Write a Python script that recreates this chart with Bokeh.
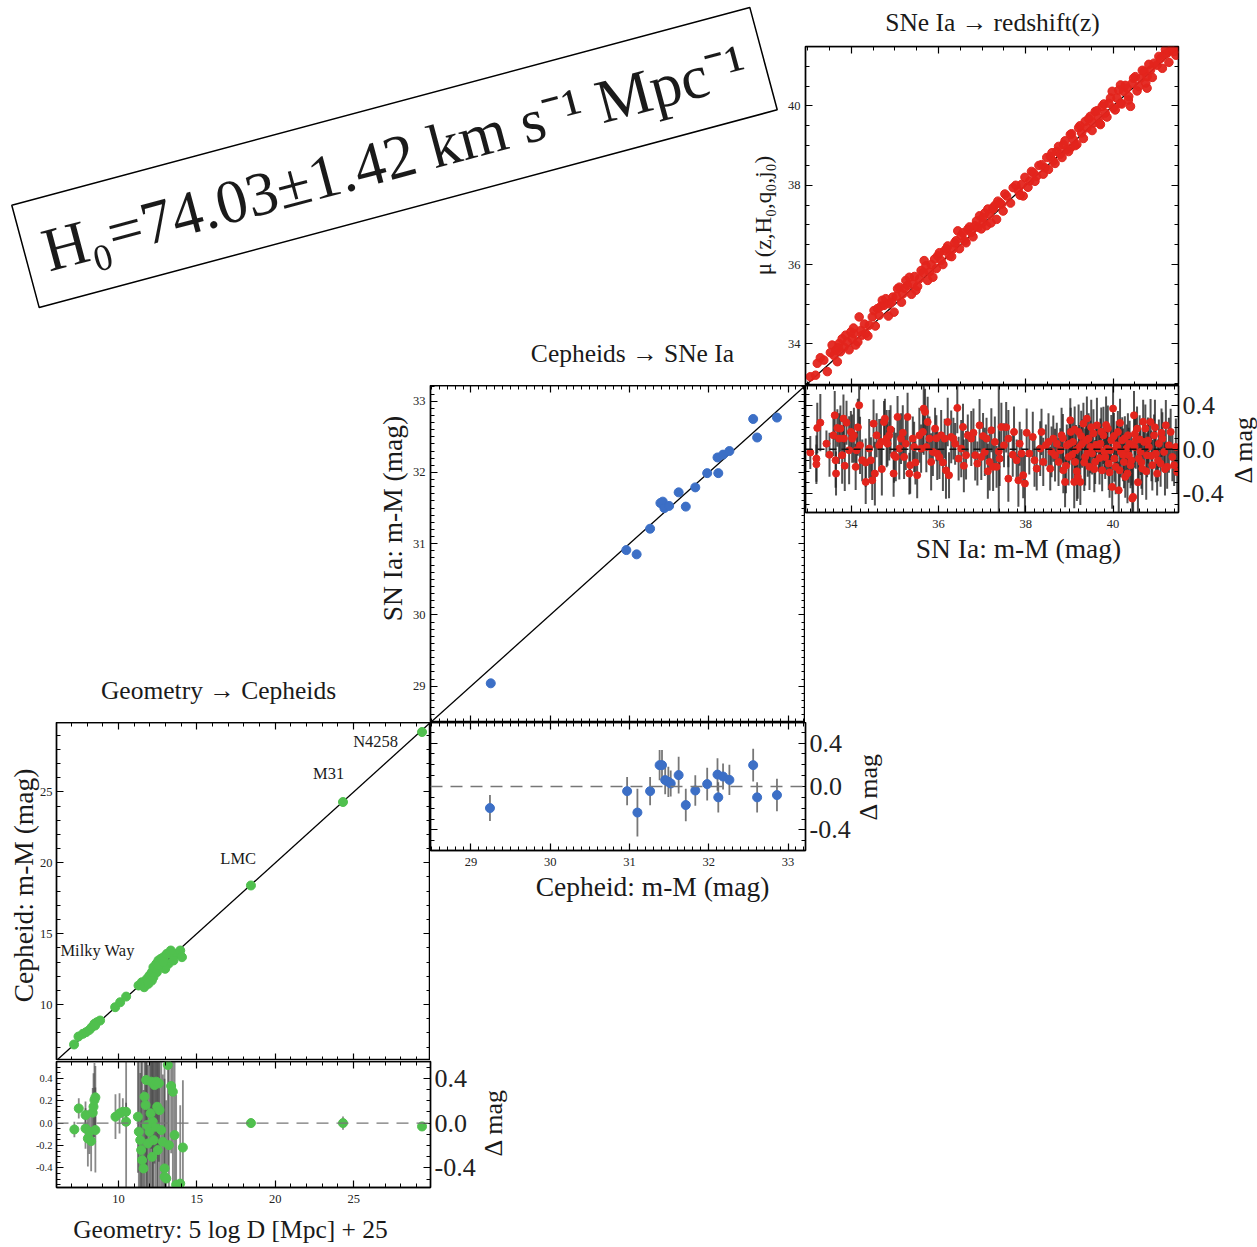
import math
import numpy as np
from bokeh.plotting import figure
from bokeh.models import Range1d, LinearAxis, FixedTicker, Label, ColumnDataSource, Span, PrintfTickFormatter
from bokeh.layouts import column
from bokeh.embed import file_html
from bokeh.resources import INLINE

# ---------------- data ----------------
# Top panel: SNe Ia -> redshift(z)
sn_x = [33.06,33.18,33.22,33.29,33.37,33.56,33.60,33.64,33.68,33.72,33.75,33.79,33.83,33.87,33.91,33.99,34.02,34.06,34.10,34.18,
        34.22,34.25,34.33,34.41,34.48,34.52,34.60,34.64,34.71,34.75,34.79,34.87,34.95,34.98,35.06,35.10,35.18,35.25,35.29,35.33,
        35.41,35.48,35.56,35.60,35.67,35.71,35.79,35.87,35.91,35.98,36.06,36.14,36.21,36.25,36.33,36.40,36.44,36.52,36.60,36.67,
        36.75,36.83,36.90,36.94,37.02,37.10,37.17,37.25,37.33,37.40,
        37.02,37.13,37.25,37.36,37.44,37.56,37.71,37.83,37.90,37.94,38.09,38.17,38.25,38.36,38.44,38.56,38.63,38.71,38.79,38.86,
        38.94,39.02,39.09,39.17,39.21,39.28,39.36,39.40,39.48,39.55,39.59,39.67,39.75,39.82,39.90,39.98,40.01,40.09,40.17,40.24,
        40.32,40.40,40.44,40.51,40.59,40.63,40.71,40.78,40.86,40.94,41.01,41.09,41.17,41.24,41.32,41.40,41.47,40.36,39.71,39.02,
        40.17,40.78,
        33.45,33.52,33.70,33.95,34.05,34.15,34.30,34.38,34.55,34.68,34.85,34.92,35.03,35.15,35.22,35.38,35.45,35.52,35.65,35.75,
        35.83,35.95,36.02,36.10,36.18,36.30,36.37,36.48,36.56,36.63,36.71,36.79,36.87,36.98,37.06,37.20,37.30,37.48,37.52,37.65,
        37.77,37.87,37.98,38.05,38.13,38.21,38.30,38.40,38.48,38.52,38.60,38.67,38.75,38.83,38.90,38.98,39.05,39.13,39.24,39.32,
        39.44,39.52,39.63,39.70,39.79,39.86,39.94,40.05,40.13,40.20,40.28,40.35,40.47,40.55,40.67,40.75,40.82,40.90,41.05,41.13,
        41.20,41.28,41.36,41.44]
sn_mu = [33.17,33.21,33.51,33.65,33.59,33.97,33.71,33.84,33.55,34.01,33.80,34.13,33.92,34.22,34.05,34.30,34.13,34.26,33.97,34.68,
         34.34,34.22,34.26,34.47,34.68,34.84,34.89,34.72,35.10,34.97,35.14,35.01,35.18,34.80,35.39,35.43,35.26,35.60,35.47,35.68,
         35.51,35.35,35.64,35.85,36.10,35.97,35.81,35.68,36.14,36.22,36.10,36.35,36.47,36.22,36.39,36.60,36.85,36.73,36.60,36.89,
         36.81,36.98,36.94,37.23,37.06,36.98,37.27,37.40,37.14,37.56,
         37.19,37.40,37.44,37.60,37.52,37.73,37.94,37.86,38.02,37.73,38.11,38.32,38.23,38.52,38.44,38.73,38.61,38.86,38.78,39.03,
         38.90,39.28,39.15,39.03,39.45,39.32,39.61,39.45,39.74,39.57,39.86,39.70,39.99,39.82,40.07,40.37,39.95,40.20,40.07,40.37,
         40.45,39.99,40.57,40.74,40.49,40.70,40.87,40.74,40.91,41.08,41.03,41.20,41.29,41.33,41.41,41.37,41.45,40.24,39.53,38.94,
         40.53,40.45,
         33.30,33.78,33.90,33.85,34.40,34.05,34.50,34.20,34.45,34.95,34.70,35.05,35.20,35.05,35.40,35.25,35.70,35.45,35.80,35.60,
         36.00,35.90,36.30,36.00,36.40,36.20,36.55,36.40,36.80,36.55,36.95,36.70,37.10,36.90,37.30,37.05,37.50,37.35,37.78,37.55,
         38.00,37.75,38.20,37.95,38.35,38.10,38.50,38.28,38.70,38.40,38.82,38.55,38.98,38.70,39.12,38.85,39.30,39.00,39.50,39.18,
         39.68,39.38,39.88,39.55,40.05,39.72,40.20,39.90,40.40,40.05,40.52,40.15,40.70,40.38,40.90,40.58,41.05,40.72,41.25,40.95,
         41.42,41.10,41.45,41.28]
sn_line = [32.95, 41.5]

sn_res_x = [33.06,33.20,33.20,33.22,33.29,33.43,33.59,33.62,33.64,33.65,33.68,33.72,33.75,33.79,33.82,33.83,33.89,33.95,33.99,34.02,
            34.06,34.10,34.12,34.18,34.20,34.25,34.33,34.33,34.41,34.48,34.51,34.54,34.58,34.64,34.68,34.75,34.77,34.81,34.83,34.87,
            34.97,34.98,35.02,35.06,35.10,35.14,35.21,35.25,35.29,35.33,35.35,35.41,35.44,35.51,35.56,35.60,35.64,35.66,35.69,35.75,
            35.79,35.83,35.87,35.92,35.97,36.02,36.06,36.14,36.17,36.21,36.24,36.29,36.34,36.43,36.46,36.52,36.56,36.63,36.67,36.75,
            36.84,36.89,36.94,36.98,37.06,37.10,37.17,37.25,
            37.21,37.29,37.33,37.40,37.44,37.50,37.60,37.60,37.73,37.79,37.83,37.86,37.90,37.94,37.98,38.08,38.16,38.25,38.33,38.36,
            38.40,38.46,38.52,38.56,38.59,38.63,38.67,38.71,38.75,38.79,38.82,38.86,38.90,38.94,38.98,39.02,39.03,39.08,39.11,39.13,
            39.15,39.19,39.21,39.25,39.29,39.32,39.36,39.40,39.44,39.46,39.48,39.52,39.55,39.59,39.63,39.67,39.71,39.75,39.78,39.82,
            39.86,39.88,39.90,39.94,39.96,39.98,40.00,40.03,40.08,40.11,40.13,40.15,40.18,40.21,40.25,40.28,40.31,40.34,40.36,40.40,
            40.44,40.46,40.48,40.49,40.52,40.55,40.59,40.63,40.67,40.71,40.74,40.78,40.82,40.86,40.90,40.94,40.98,41.01,41.05,41.09,
            41.13,41.17,41.21,41.24,41.28,41.32,41.36,41.40,41.44,41.47,37.38,
            38.85,38.92,39.00,39.06,39.12,39.17,39.23,39.27,39.34,39.38,39.42,39.50,39.57,39.61,39.69,39.73,39.80,39.84,39.92,40.02,
            40.06,40.10,40.16,40.23,40.27,40.33,40.38,40.42,40.50,40.57,40.61,40.65,40.69,40.76,40.80,40.88,40.96,41.03,41.11,41.19,
            33.50,33.85,34.15,34.45,34.70,34.90,35.18,35.47,35.72,35.95,36.10,36.38,36.58,36.80,37.02,37.13,37.55,37.70,38.02,38.20]
sn_res_d = [-0.03,-0.085,-0.136,0.194,0.242,0.051,0.127,0.309,-0.10,-0.221,0.194,0.097,0.188,-0.054,0.279,0.097,0.242,-0.009,0.158,0.097,
            0.127,-0.16,-0.009,0.40,0.036,-0.10,-0.121,-0.297,0.006,-0.282,0.233,-0.221,0.127,0.036,0.067,0.248,0.279,0.097,0.051,0.127,
            -0.221,-0.054,-0.07,0.294,0.006,0.097,-0.07,0.051,0.294,-0.221,-0.145,0.097,0.021,-0.236,0.127,0.006,0.158,0.37,0.34,0.248,
            0.097,-0.115,-0.024,0.188,-0.039,-0.07,0.127,0.097,-0.191,0.248,-0.236,0.112,0.097,0.376,-0.085,0.006,0.203,-0.054,0.127,0.097,
            -0.054,-0.13,0.218,-0.07,-0.024,0.097,-0.115,-0.16,
            0.173,0.067,-0.16,-0.085,0.203,0.036,0.097,-0.267,0.158,-0.10,-0.282,0.051,-0.039,-0.236,-0.312,-0.039,0.112,-0.176,0.006,0.158,
            -0.115,0.036,0.067,-0.176,-0.024,0.097,-0.054,0.051,-0.115,-0.009,0.127,-0.191,-0.297,0.036,-0.07,0.264,0.158,0.067,-0.297,-0.115,
            -0.009,-0.251,0.158,-0.297,0.051,0.233,-0.07,0.279,0.097,-0.16,0.021,-0.039,0.143,-0.115,0.218,0.006,0.051,-0.191,0.127,-0.07,
            0.006,0.188,-0.13,-0.009,0.082,-0.342,0.37,-0.085,0.036,0.158,-0.373,-0.191,-0.024,0.082,-0.115,-0.251,0.006,0.127,-0.054,-0.145,
            -0.448,-0.433,0.309,0.021,0.082,0.188,-0.085,-0.024,-0.176,0.067,0.188,-0.054,0.021,0.248,-0.145,0.127,-0.039,-0.221,0.051,-0.13,
            0.097,-0.024,0.218,-0.16,0.036,0.158,-0.07,-0.145,0.021,-0.206,-0.02,
            0.10,-0.15,0.05,-0.05,0.18,-0.20,0.02,0.12,-0.12,0.08,-0.03,0.20,-0.18,0.04,-0.08,0.16,-0.02,0.22,-0.21,0.12,
            -0.16,0.02,0.24,-0.05,0.10,-0.22,0.05,-0.10,0.14,-0.30,0.09,-0.12,0.25,-0.20,0.08,-0.06,0.20,-0.10,0.15,-0.18,
            -0.05,-0.15,0.20,-0.10,-0.18,0.18,0.15,-0.12,0.02,0.10,-0.12,0.05,-0.15,0.15,0.12,-0.20,0.20,-0.05,0.15,-0.10]
sn_res_err = [0.15,0.21,0.18,0.23,0.26,0.12,0.19,0.22,0.25,0.20,0.17,0.23,0.21,0.26,0.22,0.18,0.20,0.31,0.19,0.22,
              0.25,0.21,0.17,0.23,0.26,0.19,0.22,0.20,0.27,0.18,0.22,0.29,0.20,0.24,0.21,0.19,0.18,0.26,0.20,0.23,
              0.21,0.25,0.22,0.19,0.28,0.23,0.20,0.24,0.22,0.19,0.26,0.20,0.23,0.21,0.25,0.22,0.19,0.42,0.21,0.23,
              0.20,0.26,0.22,0.19,0.24,0.20,0.23,0.18,0.26,0.22,0.21,0.24,0.19,0.23,0.20,0.26,0.21,0.22,0.19,0.25,
              0.23,0.20,0.24,0.21,0.22,0.19,0.26,0.22,
              0.20,0.23,0.19,0.25,0.22,0.20,0.26,0.21,0.23,0.19,0.24,0.20,0.22,0.21,0.26,0.19,0.23,0.20,0.25,0.21,
              0.22,0.19,0.26,0.20,0.23,0.21,0.24,0.19,0.22,0.20,0.25,0.21,0.23,0.19,0.26,0.20,0.22,0.21,0.24,0.19,
              0.23,0.20,0.25,0.21,0.22,0.19,0.26,0.20,0.23,0.21,0.24,0.19,0.22,0.20,0.25,0.21,0.23,0.19,0.26,0.20,
              0.22,0.21,0.24,0.19,0.23,0.20,0.25,0.21,0.22,0.19,0.26,0.20,0.23,0.21,0.24,0.19,0.22,0.20,0.25,0.21,
              0.30,0.31,0.22,0.19,0.26,0.20,0.23,0.21,0.24,0.19,0.22,0.20,0.25,0.21,0.23,0.19,0.26,0.20,0.22,0.21,
              0.24,0.19,0.23,0.20,0.25,0.21,0.22,0.19,0.26,0.20,0.75,
              0.22,0.25,0.19,0.24,0.21,0.27,0.20,0.23,0.26,0.18,0.22,0.25,0.21,0.19,0.24,0.22,0.20,0.26,0.23,0.21,
              0.25,0.19,0.22,0.24,0.20,0.27,0.21,0.23,0.19,0.28,0.22,0.24,0.20,0.26,0.21,0.23,0.25,0.19,0.22,0.24,
              0.20,0.23,0.26,0.21,0.24,0.22,0.25,0.20,0.23,0.21,0.26,0.19,0.24,0.22,0.21,0.25,0.23,0.20,0.22,0.24]

# Middle panel: Cepheids -> SNe Ia
cep_x = [29.25,30.96,31.09,31.26,31.39,31.42,31.44,31.50,31.62,31.71,31.83,31.98,32.11,32.12,32.18,32.26,32.56,32.61,32.86]
sn_y = [29.04,30.91,30.85,31.21,31.57,31.59,31.50,31.53,31.72,31.52,31.79,31.99,32.21,31.99,32.25,32.30,32.75,32.49,32.77]
cep_line = [28.49, 33.22]
cep_res_x = [29.24,30.97,31.10,31.26,31.38,31.41,31.45,31.49,31.52,31.62,31.71,31.83,31.98,32.11,32.12,32.18,32.26,32.56,32.61,32.86]
cep_res_d = [-0.199,-0.043,-0.24,-0.043,0.197,0.197,0.059,0.043,0.028,0.105,-0.171,-0.037,0.022,0.11,-0.10,0.092,0.061,0.197,-0.10,-0.079]
cep_res_err = [0.12,0.13,0.22,0.13,0.14,0.14,0.13,0.14,0.12,0.17,0.15,0.14,0.15,0.15,0.14,0.12,0.14,0.15,0.14,0.15]

# Bottom panel: Geometry -> Cepheids
geo_x = [7.17,7.45,7.73,7.94,8.15,8.30,8.47,8.62,8.83,8.51,9.79,10.11,10.49,11.28,11.49,11.64,11.81,11.98,12.13,12.23,
         12.41,12.55,12.71,12.87,13.09,13.30,13.51,13.73,13.94,14.05,13.19,12.98,12.77,12.45,12.23,12.13,11.91,13.51,13.34,12.55,
         12.87,18.45,24.32,29.36]
cep_y = [7.18,7.74,7.93,8.05,8.21,8.40,8.64,8.75,8.87,8.52,9.81,10.16,10.56,11.34,11.57,11.22,11.81,12.05,12.28,12.63,
         12.87,13.11,13.23,13.34,13.58,13.69,13.46,13.58,13.81,13.34,12.87,12.52,13.11,12.28,11.93,11.69,11.46,13.11,13.81,12.75,
         12.99,18.40,24.29,29.23]
geo_line = [6.05, 29.9]
geo_res_x = [7.19,7.47,7.90,7.90,8.05,8.15,8.26,8.36,8.41,8.47,8.53,8.53,9.81,10.07,10.28,10.49,10.49,11.24,11.30,11.39,
             11.45,11.51,11.60,11.66,11.73,11.77,11.81,11.88,11.98,12.05,12.09,12.15,12.19,12.24,12.30,12.36,12.41,12.47,12.51,12.58,
             12.62,12.73,12.83,12.94,12.94,13.05,13.15,13.22,13.36,13.47,13.58,13.68,13.94,14.11,18.45,24.32,29.36]
geo_res_d = [-0.057,0.131,0.072,-0.048,-0.137,-0.077,-0.161,0.093,0.146,0.206,0.230,-0.062,0.057,0.087,0.101,0.101,0.012,0.057,-0.077,-0.152,
             -0.241,-0.331,-0.405,0.236,0.161,0.385,-0.018,-0.182,-0.077,0.087,0.370,-0.301,0.012,-0.152,0.340,-0.033,0.370,0.146,-0.241,0.355,
             0.116,-0.062,-0.167,-0.405,-0.480,-0.495,0.519,-0.197,0.331,0.280,-0.107,-0.55,-0.54,-0.218,0.0,0.0,-0.03]
geo_res_err = [0.07,0.09,0.12,0.18,0.25,0.20,0.27,0.22,0.30,0.33,0.28,0.38,0.20,0.18,0.12,0.08,1.00,0.50,0.90,0.60,
               0.80,1.00,0.70,0.90,0.60,1.00,0.80,0.70,0.90,1.00,0.60,0.90,0.80,1.00,0.70,0.90,0.60,1.00,0.80,0.70,
               1.00,0.90,0.60,0.80,1.00,0.70,0.90,0.80,0.60,1.00,0.90,0.80,0.70,0.60,0.04,0.06,0.03]

geo_names = ["Milky Way", "LMC", "M31", "N4258"]
geo_name_x = [6.3, 17.64, 23.4, 26.4]
geo_name_y = [13.8, 20.3, 26.3, 28.57]

res_ticks = [-0.4, 0.0, 0.4]
h0_text = "H\u2080=74.03\u00b11.42 km s\u207b\u00b9 Mpc\u207b\u00b9"

# ---------------- style ----------------
SERIF = "Liberation Serif"
RED = "#e3241c"
BLUE = "#3c6fc6"
GREEN = "#50c04e"
W, H = 1257, 1247
TICK_FS = "12.5px"
BIG_FS = "26px"


def make_fig(left_px, top_px, w, h, xr, yr, left, right, top, bottom):
    p = figure(width=w, height=h, x_range=Range1d(*xr), y_range=Range1d(*yr),
               x_axis_location=None, y_axis_location=None, toolbar_location=None,
               tools="", output_backend="svg",
               min_border_left=left, min_border_right=right,
               min_border_top=top, min_border_bottom=bottom,
               styles={"position": "absolute", "left": f"{left_px}px", "top": f"{top_px}px"})
    try:
        p.frame_align = False
    except AttributeError:
        pass
    p.xgrid.visible = False
    p.ygrid.visible = False
    p.outline_line_color = "black"
    p.outline_line_width = 1.5
    p.background_fill_color = "white"
    p.border_fill_alpha = 0
    return p


def add_axis(p, side, ticks, minor, labels=False, size=TICK_FS, fixed=None, standoff=5, fmt=None):
    ax = LinearAxis(ticker=FixedTicker(ticks=ticks, minor_ticks=minor))
    ax.major_tick_in = 7
    ax.major_tick_out = 0
    ax.minor_tick_in = 4
    ax.minor_tick_out = 0
    ax.axis_line_color = "black"
    ax.axis_line_width = 1.3
    ax.major_tick_line_color = "black"
    ax.minor_tick_line_color = "black"
    ax.major_tick_line_width = 1.2
    ax.major_label_text_font = SERIF
    ax.major_label_text_color = "#222222"
    ax.major_label_standoff = standoff
    if fmt is not None:
        ax.formatter = fmt
    if labels:
        ax.major_label_text_font_size = size
    else:
        ax.major_label_text_font_size = "0px"
        ax.major_label_text_alpha = 0
    if fixed is not None:
        ax.fixed_location = fixed
    p.add_layout(ax, side)
    return ax


def rng(a, b, step):
    return [round(v, 3) for v in np.arange(a, b + step / 2, step)]


def errbars(p, xs, ds, es, color, width, alpha):
    src = ColumnDataSource(dict(x=xs, lo=list(np.array(ds) - np.array(es)),
                                hi=list(np.array(ds) + np.array(es))))
    p.segment(x0="x", y0="lo", x1="x", y1="hi", source=src,
              line_color=color, line_width=width, line_alpha=alpha)


# ---------------- top panel (SNe Ia -> redshift) ----------------
SNX = (32.95, 41.5)
p1 = make_fig(740, 0, 517, 385, SNX, SNX, 65, 79, 46, 0)
sn_major = [34, 36, 38, 40]
sn_minor = rng(33.0, 41.5, 0.5)
add_axis(p1, "left", sn_major, sn_minor, labels=True, standoff=5)
add_axis(p1, "right", sn_major, sn_minor, fixed=SNX[1])
add_axis(p1, "above", sn_major, sn_minor, fixed=SNX[1])
add_axis(p1, "below", sn_major, sn_minor, fixed=SNX[0])
p1.line(x=sn_line, y=sn_line, line_color="black", line_width=1.3)
p1.scatter(x=sn_x, y=sn_mu, size=8.5, fill_color=RED, line_color=RED, fill_alpha=0.95)

# ---------------- top residual ----------------
p3 = make_fig(805, 385, 452, 200, SNX, (-0.575, 0.58), 0, 79, 0, 73)
r_minor = rng(-0.5, 0.5, 0.1)
add_axis(p3, "below", sn_major, rng(33.0, 41.4, 0.2), labels=True, standoff=7)
add_axis(p3, "right", res_ticks, r_minor, labels=True, size=BIG_FS, standoff=4,
         fmt=PrintfTickFormatter(format="%.1f"))
add_axis(p3, "left", res_ticks, r_minor, fixed=SNX[0])
add_axis(p3, "above", sn_major, rng(33.0, 41.4, 0.2), fixed=0.58)
errbars(p3, sn_res_x, sn_res_d, sn_res_err, "#262626", 2.0, 0.8)
p3.add_layout(Span(location=0, dimension="width", line_color="#111111",
                   line_dash="7 5", line_width=1.3))
p3.scatter(x=sn_res_x, y=sn_res_d, size=7, fill_color=RED, line_color=RED)

# ---------------- middle panel (Cepheids -> SNe Ia) ----------------
CX = (28.49, 33.22)
p2 = make_fig(360, 385, 445, 337, CX, CX, 70, 0, 0, 0)
c_major = [29, 30, 31, 32, 33]
c_minor = rng(28.5, 33.2, 0.1)
add_axis(p2, "left", c_major, c_minor, labels=True, standoff=5)
add_axis(p2, "right", c_major, c_minor, fixed=CX[1])
add_axis(p2, "above", c_major, c_minor, fixed=CX[1])
add_axis(p2, "below", c_major, c_minor, fixed=CX[0])
p2.line(x=cep_line, y=cep_line, line_color="black", line_width=1.3)
p2.scatter(x=cep_x, y=sn_y, size=9, fill_color=BLUE, line_color=BLUE)

# ---------------- middle residual ----------------
p5 = make_fig(430, 722, 460, 200, CX, (-0.59, 0.59), 0, 85, 0, 72)
add_axis(p5, "below", c_major, c_minor, labels=True, standoff=7)
add_axis(p5, "right", res_ticks, r_minor, labels=True, size=BIG_FS, standoff=4,
         fmt=PrintfTickFormatter(format="%.1f"))
add_axis(p5, "left", res_ticks, r_minor, fixed=CX[0])
add_axis(p5, "above", c_major, c_minor, fixed=0.59)
p5.add_layout(Span(location=0, dimension="width", line_color="#777777",
                   line_dash="12 8", line_width=1.3))
errbars(p5, cep_res_x, cep_res_d, cep_res_err, "#555555", 1.8, 0.8)
p5.scatter(x=cep_res_x, y=cep_res_d, size=9, fill_color=BLUE, line_color=BLUE)

# ---------------- bottom main (Geometry -> Cepheids) ----------------
GX = (6.05, 29.9)
p4 = make_fig(0, 722, 430, 338, GX, GX, 56, 0, 0, 0)
g_major = [10, 15, 20, 25]
g_minor = rng(7, 29, 1)
add_axis(p4, "left", g_major, g_minor, labels=True, standoff=4)
add_axis(p4, "right", g_major, g_minor, fixed=GX[1])
add_axis(p4, "above", g_major, g_minor, fixed=GX[1])
add_axis(p4, "below", g_major, g_minor, fixed=GX[0])
p4.line(x=geo_line, y=geo_line, line_color="black", line_width=1.3)
p4.scatter(x=geo_x, y=cep_y, size=9, fill_color=GREEN, line_color=GREEN)
for nm, nx, ny in zip(geo_names, geo_name_x, geo_name_y):
    p4.add_layout(Label(x=nx, y=ny, text=nm, text_font=SERIF, text_font_size="16.5px",
                        text_color="#1a1a1a",
                        text_align="left" if nm == "Milky Way" else "center",
                        text_baseline="middle"))

# ---------------- bottom residual ----------------
p6 = make_fig(0, 1060, 520, 187, GX, (-0.575, 0.55), 56, 90, 1, 60)
add_axis(p6, "below", g_major, g_minor, labels=True, standoff=7)
add_axis(p6, "left", [-0.4, -0.2, 0.0, 0.2, 0.4], rng(-0.55, 0.5, 0.05), labels=True, size="10.5px",
         standoff=4, fmt=PrintfTickFormatter(format="%.1f"))
add_axis(p6, "right", res_ticks, rng(-0.5, 0.5, 0.1), labels=True, size=BIG_FS, standoff=4,
         fmt=PrintfTickFormatter(format="%.1f"))
add_axis(p6, "above", g_major, g_minor, fixed=0.55)
p6.add_layout(Span(location=0, dimension="width", line_color="#777777",
                   line_dash="12 8", line_width=1.3))
errbars(p6, geo_res_x, geo_res_d, geo_res_err, "#3a3a3a", 1.8, 0.6)
p6.scatter(x=geo_res_x, y=geo_res_d, size=9, fill_color=GREEN, line_color=GREEN)

# ---------------- overlay for free-floating texts (page pixel coords) ----------------
ov = figure(width=W, height=H, x_range=Range1d(0, W), y_range=Range1d(H, 0),
            x_axis_location=None, y_axis_location=None, toolbar_location=None,
            tools="", output_backend="svg", min_border=0,
            styles={"position": "absolute", "left": "0px", "top": "0px"})
try:
    ov.frame_align = False
except AttributeError:
    pass
ov.xgrid.visible = False
ov.ygrid.visible = False
ov.outline_line_color = None
ov.background_fill_alpha = 0
ov.border_fill_alpha = 0


def olabel(x, y, text, size, angle=0.0, **kw):
    ov.add_layout(Label(x=x, y=y, text=text, text_font=SERIF, text_font_size=size,
                        text_color="#1a1a1a", text_align="center", text_baseline="middle",
                        angle=angle, **kw))


VERT = math.pi / 2
# panel titles
olabel(992, 22, "SNe Ia \u2192 redshift(z)", "25.5px")
olabel(632, 353, "Cepheids \u2192 SNe Ia", "25.5px")
olabel(218, 690, "Geometry \u2192 Cepheids", "25.5px")
# axis titles
olabel(763, 215, "\u03bc (z,H\u2080,q\u2080,j\u2080)", "23px", angle=VERT)
olabel(392, 518, "SN Ia: m-M (mag)", "27.5px", angle=VERT)
olabel(23, 885, "Cepheid: m-M (mag)", "27.5px", angle=VERT)
olabel(1018, 548, "SN Ia: m-M (mag)", "27.5px")
olabel(652, 886, "Cepheid: m-M (mag)", "27.5px")
olabel(230, 1229, "Geometry: 5 log D [Mpc] + 25", "25.5px")
olabel(1243, 449, "\u0394 mag", "26px", angle=VERT)
olabel(868, 786, "\u0394 mag", "26px", angle=VERT)
olabel(493, 1122, "\u0394 mag", "26px", angle=VERT)
# result box
olabel(394, 157, h0_text, "62px", angle=math.radians(15.0),
       border_line_color="black", border_line_width=1.5,
       background_fill_color="white", padding=19)

layout = column(p1, p3, p2, p5, p4, p6, ov, width=W, height=H,
                styles={"position": "relative"})
open("out.html", "w").write(file_html(layout, INLINE))
